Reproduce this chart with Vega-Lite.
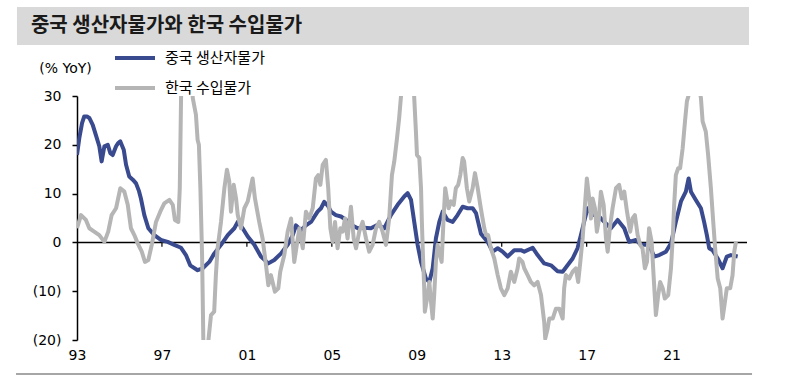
{
  "$schema": "https://vega.github.io/schema/vega-lite/v6.json",
  "padding": {"left": 16, "top": 7, "right": 0, "bottom": 0},
  "background": "white",
  "spacing": -9,
  "resolve": {"scale": {"color": "independent", "x": "independent", "y": "independent"}, "legend": {"color": "independent"}},
  "config": {"view": {"stroke": null}, "font": "DejaVu Sans"},
  "datasets": {
    "ppi": [
      {"t":1993.00,"v":17.9},{"t":1993.11,"v":21.4},{"t":1993.24,"v":24.5},{"t":1993.34,"v":25.8},{"t":1993.47,"v":25.8},{"t":1993.58,"v":25.5},{"t":1993.74,"v":24.1},{"t":1993.89,"v":22.0},{"t":1994.05,"v":19.7},{"t":1994.16,"v":16.6},{"t":1994.29,"v":19.7},{"t":1994.45,"v":20.0},{"t":1994.57,"v":18.3},{"t":1994.68,"v":17.9},{"t":1994.84,"v":19.7},{"t":1994.93,"v":20.3},{"t":1995.04,"v":20.7},{"t":1995.20,"v":19.0},{"t":1995.31,"v":15.9},{"t":1995.46,"v":13.5},{"t":1995.64,"v":12.8},{"t":1995.78,"v":12.1},{"t":1995.92,"v":10.5},{"t":1996.01,"v":9.0},{"t":1996.17,"v":5.6},{"t":1996.36,"v":2.9},{"t":1996.64,"v":1.5},{"t":1996.95,"v":0.5},{"t":1997.27,"v":0.1},{"t":1997.58,"v":-0.5},{"t":1997.90,"v":-1.1},{"t":1998.13,"v":-2.6},{"t":1998.33,"v":-4.7},{"t":1998.68,"v":-5.7},{"t":1998.92,"v":-5.3},{"t":1999.23,"v":-4.0},{"t":1999.46,"v":-2.3},{"t":1999.78,"v":-0.5},{"t":2000.10,"v":1.5},{"t":2000.41,"v":2.9},{"t":2000.57,"v":4.2},{"t":2000.80,"v":2.9},{"t":2001.04,"v":1.2},{"t":2001.35,"v":-0.5},{"t":2001.66,"v":-2.9},{"t":2002.01,"v":-4.3},{"t":2002.29,"v":-3.6},{"t":2002.60,"v":-2.3},{"t":2002.92,"v":-0.5},{"t":2003.16,"v":1.5},{"t":2003.31,"v":3.5},{"t":2003.55,"v":2.5},{"t":2003.78,"v":3.5},{"t":2004.02,"v":4.2},{"t":2004.33,"v":6.3},{"t":2004.49,"v":7.0},{"t":2004.64,"v":8.3},{"t":2004.82,"v":7.5},{"t":2004.96,"v":6.3},{"t":2005.19,"v":5.6},{"t":2005.43,"v":5.3},{"t":2005.67,"v":4.6},{"t":2005.90,"v":3.6},{"t":2006.22,"v":2.9},{"t":2006.51,"v":3.0},{"t":2006.84,"v":2.9},{"t":2007.16,"v":3.6},{"t":2007.47,"v":2.9},{"t":2007.78,"v":5.6},{"t":2008.10,"v":7.7},{"t":2008.41,"v":9.4},{"t":2008.57,"v":10.1},{"t":2008.73,"v":8.7},{"t":2008.88,"v":4.2},{"t":2009.04,"v":-0.5},{"t":2009.20,"v":-4.0},{"t":2009.43,"v":-7.4},{"t":2009.59,"v":-8.1},{"t":2009.75,"v":-5.3},{"t":2009.90,"v":0.8},{"t":2010.06,"v":4.2},{"t":2010.22,"v":6.3},{"t":2010.45,"v":4.6},{"t":2010.69,"v":4.2},{"t":2010.92,"v":5.6},{"t":2011.16,"v":7.3},{"t":2011.39,"v":7.0},{"t":2011.63,"v":7.0},{"t":2011.79,"v":6.0},{"t":2012.02,"v":1.8},{"t":2012.34,"v":0.1},{"t":2012.57,"v":-1.9},{"t":2012.81,"v":-1.2},{"t":2013.04,"v":-1.9},{"t":2013.28,"v":-2.9},{"t":2013.59,"v":-1.6},{"t":2013.90,"v":-1.6},{"t":2014.06,"v":-1.9},{"t":2014.46,"v":-1.1},{"t":2014.69,"v":-2.6},{"t":2015.00,"v":-4.3},{"t":2015.32,"v":-4.7},{"t":2015.63,"v":-5.9},{"t":2015.87,"v":-6.0},{"t":2016.10,"v":-4.7},{"t":2016.34,"v":-3.3},{"t":2016.57,"v":-1.2},{"t":2016.73,"v":1.5},{"t":2016.88,"v":4.2},{"t":2017.04,"v":7.0},{"t":2017.28,"v":5.6},{"t":2017.52,"v":5.6},{"t":2017.83,"v":4.2},{"t":2018.14,"v":2.9},{"t":2018.46,"v":4.6},{"t":2018.77,"v":2.9},{"t":2019.00,"v":0.1},{"t":2019.32,"v":0.5},{"t":2019.55,"v":-0.5},{"t":2019.94,"v":-0.5},{"t":2020.18,"v":-2.9},{"t":2020.42,"v":-2.6},{"t":2020.73,"v":-1.9},{"t":2020.97,"v":-0.2},{"t":2021.20,"v":4.2},{"t":2021.44,"v":8.4},{"t":2021.67,"v":10.4},{"t":2021.80,"v":13.1},{"t":2021.91,"v":10.4},{"t":2022.14,"v":8.7},{"t":2022.38,"v":7.0},{"t":2022.53,"v":4.2},{"t":2022.66,"v":1.5},{"t":2022.77,"v":-1.2},{"t":2022.93,"v":-1.6},{"t":2023.17,"v":-3.3},{"t":2023.40,"v":-5.3},{"t":2023.60,"v":-2.9},{"t":2023.79,"v":-2.6},{"t":2024.11,"v":-2.9}
    ],
    "imp": [
      {"t":1993.00,"v":2.9},{"t":1993.19,"v":5.6},{"t":1993.42,"v":4.6},{"t":1993.58,"v":2.9},{"t":1993.81,"v":2.2},{"t":1994.05,"v":1.5},{"t":1994.29,"v":0.1},{"t":1994.47,"v":2.2},{"t":1994.63,"v":5.6},{"t":1994.84,"v":7.0},{"t":1995.04,"v":11.1},{"t":1995.23,"v":10.4},{"t":1995.39,"v":7.7},{"t":1995.54,"v":2.9},{"t":1995.70,"v":1.5},{"t":1995.86,"v":-0.2},{"t":1996.05,"v":-1.9},{"t":1996.20,"v":-4.0},{"t":1996.36,"v":-3.6},{"t":1996.52,"v":-0.5},{"t":1996.72,"v":4.2},{"t":1996.92,"v":6.3},{"t":1997.11,"v":8.0},{"t":1997.35,"v":8.7},{"t":1997.51,"v":7.7},{"t":1997.61,"v":4.6},{"t":1997.77,"v":4.2},{"t":1997.84,"v":11.1},{"t":1997.90,"v":29.6},{"t":1997.99,"v":45},{"t":1998.18,"v":58},{"t":1998.37,"v":40},{"t":1998.45,"v":29.6},{"t":1998.60,"v":26.2},{"t":1998.68,"v":21},{"t":1998.74,"v":20},{"t":1998.81,"v":11.1},{"t":1998.89,"v":-2.6},{"t":1998.95,"v":-20.3},{"t":1999.03,"v":-25},{"t":1999.18,"v":-20.4},{"t":1999.31,"v":-14.9},{"t":1999.46,"v":-14.2},{"t":1999.54,"v":-6.7},{"t":1999.62,"v":-1.2},{"t":1999.78,"v":4.2},{"t":1999.94,"v":11.1},{"t":2000.06,"v":14.9},{"t":2000.17,"v":12.5},{"t":2000.25,"v":6.3},{"t":2000.38,"v":11.8},{"t":2000.49,"v":9.0},{"t":2000.57,"v":5.6},{"t":2000.72,"v":2.9},{"t":2000.88,"v":7.0},{"t":2001.04,"v":8.4},{"t":2001.27,"v":13.1},{"t":2001.38,"v":9.0},{"t":2001.58,"v":4.2},{"t":2001.74,"v":0.8},{"t":2001.90,"v":-4.7},{"t":2002.01,"v":-8.8},{"t":2002.13,"v":-6.7},{"t":2002.32,"v":-10.1},{"t":2002.48,"v":-9.4},{"t":2002.57,"v":-6.0},{"t":2002.76,"v":-2.6},{"t":2002.92,"v":2.2},{"t":2003.08,"v":4.9},{"t":2003.23,"v":-4.0},{"t":2003.47,"v":2.9},{"t":2003.63,"v":-1.2},{"t":2003.78,"v":6.3},{"t":2003.94,"v":4.9},{"t":2004.10,"v":7.0},{"t":2004.25,"v":13.1},{"t":2004.36,"v":13.8},{"t":2004.46,"v":11.8},{"t":2004.57,"v":15.9},{"t":2004.72,"v":16.9},{"t":2004.83,"v":11.1},{"t":2004.93,"v":2.9},{"t":2005.04,"v":0.1},{"t":2005.15,"v":4.2},{"t":2005.27,"v":-1.2},{"t":2005.40,"v":2.9},{"t":2005.51,"v":2.2},{"t":2005.62,"v":4.9},{"t":2005.74,"v":0.8},{"t":2005.90,"v":7.3},{"t":2006.03,"v":0.8},{"t":2006.14,"v":-1.2},{"t":2006.29,"v":2.2},{"t":2006.45,"v":4.2},{"t":2006.61,"v":0.8},{"t":2006.76,"v":-1.9},{"t":2006.92,"v":-0.5},{"t":2007.08,"v":2.9},{"t":2007.23,"v":4.2},{"t":2007.39,"v":2.2},{"t":2007.55,"v":-0.5},{"t":2007.70,"v":4.9},{"t":2007.83,"v":13.8},{"t":2007.94,"v":16.6},{"t":2008.07,"v":21.4},{"t":2008.17,"v":25.5},{"t":2008.25,"v":29.6},{"t":2008.44,"v":40},{"t":2008.63,"v":48},{"t":2008.77,"v":40},{"t":2008.88,"v":29.6},{"t":2008.96,"v":22.7},{"t":2009.01,"v":17.9},{"t":2009.12,"v":17.3},{"t":2009.20,"v":11.1},{"t":2009.24,"v":4.2},{"t":2009.29,"v":-2.6},{"t":2009.35,"v":-9.4},{"t":2009.38,"v":-14.2},{"t":2009.51,"v":-10.8},{"t":2009.59,"v":-8.1},{"t":2009.67,"v":-12.2},{"t":2009.75,"v":-15.6},{"t":2009.82,"v":-10.8},{"t":2009.90,"v":-4.0},{"t":2009.98,"v":-0.5},{"t":2010.06,"v":-1.9},{"t":2010.17,"v":-4.0},{"t":2010.27,"v":5.6},{"t":2010.34,"v":11.1},{"t":2010.42,"v":9.0},{"t":2010.50,"v":7.0},{"t":2010.61,"v":8.4},{"t":2010.74,"v":7.7},{"t":2010.84,"v":11.1},{"t":2010.95,"v":11.8},{"t":2011.05,"v":13.8},{"t":2011.16,"v":17.3},{"t":2011.23,"v":16.6},{"t":2011.36,"v":11.1},{"t":2011.47,"v":8.4},{"t":2011.63,"v":11.1},{"t":2011.74,"v":14.2},{"t":2011.87,"v":11.1},{"t":2011.99,"v":7.7},{"t":2012.07,"v":5.6},{"t":2012.18,"v":2.9},{"t":2012.26,"v":1.5},{"t":2012.36,"v":1.5},{"t":2012.49,"v":-1.2},{"t":2012.65,"v":-3.3},{"t":2012.81,"v":-6.7},{"t":2012.96,"v":-9.4},{"t":2013.12,"v":-10.8},{"t":2013.28,"v":-9.4},{"t":2013.43,"v":-6.0},{"t":2013.59,"v":-8.1},{"t":2013.75,"v":-5.3},{"t":2013.82,"v":-3.3},{"t":2013.98,"v":-4.0},{"t":2014.06,"v":-5.3},{"t":2014.22,"v":-6.7},{"t":2014.37,"v":-8.1},{"t":2014.53,"v":-8.8},{"t":2014.69,"v":-8.1},{"t":2014.85,"v":-10.8},{"t":2015.00,"v":-16.3},{"t":2015.05,"v":-19.7},{"t":2015.16,"v":-17.7},{"t":2015.24,"v":-15.6},{"t":2015.40,"v":-15.6},{"t":2015.55,"v":-13.6},{"t":2015.71,"v":-13.6},{"t":2015.87,"v":-15.6},{"t":2015.94,"v":-9.4},{"t":2016.02,"v":-6.7},{"t":2016.18,"v":-7.4},{"t":2016.34,"v":-6.0},{"t":2016.49,"v":-5.3},{"t":2016.60,"v":-8.1},{"t":2016.70,"v":-4.0},{"t":2016.81,"v":0.8},{"t":2016.92,"v":7.7},{"t":2017.01,"v":13.1},{"t":2017.12,"v":9.0},{"t":2017.20,"v":4.9},{"t":2017.28,"v":9.0},{"t":2017.39,"v":7.0},{"t":2017.48,"v":2.2},{"t":2017.56,"v":4.2},{"t":2017.67,"v":10.4},{"t":2017.80,"v":7.7},{"t":2017.91,"v":0.8},{"t":2017.99,"v":-1.9},{"t":2018.09,"v":2.9},{"t":2018.22,"v":7.0},{"t":2018.38,"v":11.1},{"t":2018.53,"v":11.8},{"t":2018.65,"v":9.0},{"t":2018.77,"v":10.4},{"t":2018.90,"v":6.3},{"t":2019.00,"v":3.6},{"t":2019.05,"v":2.2},{"t":2019.16,"v":4.9},{"t":2019.27,"v":5.6},{"t":2019.40,"v":1.5},{"t":2019.52,"v":-0.5},{"t":2019.63,"v":-1.2},{"t":2019.74,"v":-5.3},{"t":2019.84,"v":-4.0},{"t":2019.94,"v":2.9},{"t":2020.06,"v":0.1},{"t":2020.15,"v":-6.7},{"t":2020.26,"v":-14.9},{"t":2020.37,"v":-10.8},{"t":2020.46,"v":-8.1},{"t":2020.58,"v":-9.4},{"t":2020.68,"v":-11.5},{"t":2020.84,"v":-10.8},{"t":2020.97,"v":-5.3},{"t":2021.05,"v":0.8},{"t":2021.12,"v":7.7},{"t":2021.20,"v":13.8},{"t":2021.31,"v":15.2},{"t":2021.40,"v":15.2},{"t":2021.52,"v":19.3},{"t":2021.63,"v":24.8},{"t":2021.72,"v":28.9},{"t":2021.81,"v":30.3},{"t":2021.95,"v":31},{"t":2022.14,"v":36},{"t":2022.38,"v":29.6},{"t":2022.46,"v":24.8},{"t":2022.61,"v":22.7},{"t":2022.72,"v":17.9},{"t":2022.85,"v":11.1},{"t":2022.96,"v":4.2},{"t":2023.05,"v":-1.2},{"t":2023.17,"v":-7.4},{"t":2023.29,"v":-9.4},{"t":2023.40,"v":-15.6},{"t":2023.51,"v":-12.2},{"t":2023.60,"v":-9.4},{"t":2023.76,"v":-9.4},{"t":2023.87,"v":-6.7},{"t":2023.95,"v":-1.9},{"t":2024.03,"v":0.1}
    ],
    "ticks": [{"t":1997},{"t":2001},{"t":2005},{"t":2009},{"t":2013},{"t":2017},{"t":2021}],
    "band": [{"a": -0.0896, "b": 1.003, "title": "중국 생산자물가와 한국 수입물가", "tx": -0.0687}],
    "foot": [{"a": -0.091, "b": 1.0075}]
  },
  "vconcat": [
    {
      "width": 670,
      "height": 38,
      "data": {"name": "band"},
      "layer": [
        {
          "mark": {"type": "rect", "color": "#d9d9d9", "clip": false},
          "encoding": {
            "x": {"field": "a", "type": "quantitative", "scale": {"domain": [0, 1], "nice": false, "zero": false}, "axis": null},
            "x2": {"field": "b"},
            "y": {"datum": 0, "type": "quantitative", "scale": {"domain": [0, 1], "nice": false, "zero": false}, "axis": null},
            "y2": {"datum": 1}
          }
        },
        {
          "mark": {"type": "text", "align": "left", "baseline": "middle", "font": "Noto Sans CJK KR", "fontSize": 20, "fontWeight": "bold", "color": "#1a1a1a"},
          "encoding": {
            "text": {"field": "title"},
            "x": {"field": "tx", "type": "quantitative"},
            "y": {"datum": 0.5, "type": "quantitative"}
          }
        }
      ]
    },
    {
      "spacing": 11,
      "resolve": {"scale": {"color": "independent", "x": "independent", "y": "independent"}, "legend": {"color": "independent"}},
      "vconcat": [
        {
          "width": 670,
          "height": 244,
          "layer": [
            {
              "data": {"name": "ticks"},
              "mark": {"type": "rule", "color": "#000", "strokeWidth": 1.2},
              "encoding": {
                "x": {"field": "t", "type": "quantitative", "scale": {"domain": [1993, 2024.55], "nice": false, "zero": false},
                  "axis": {"title": null, "values": [1993, 1997, 2001, 2005, 2009, 2013, 2017, 2021], "labelExpr": "substring(toString(datum.value), 2)", "ticks": false, "domain": false, "grid": false, "labelPadding": 8, "labelFontSize": 14, "labelColor": "#000", "labelFlush": false}},
                "y": {"datum": 0, "type": "quantitative", "scale": {"domain": [-20, 30], "nice": false, "zero": false},
                  "axis": {"title": "(% YoY)", "titleAngle": 0, "titleX": -12, "titleY": -28, "titleAlign": "center", "titleBaseline": "middle", "titleFontSize": 14, "titleFontWeight": "normal", "titleColor": "#000", "values": [-20, -10, 0, 10, 20, 30], "labelExpr": "datum.value < 0 ? '(' + abs(datum.value) + ')' : '' + datum.value", "grid": false, "domainColor": "#000", "domainWidth": 1.5, "tickColor": "#000", "tickSize": 5, "tickWidth": 1.5, "labelPadding": 11, "labelFontSize": 14, "labelColor": "#000", "minExtent": 60}},
                "y2": {"datum": -0.9}
              }
            },
            {
              "data": {"values": [{}]},
              "mark": {"type": "rule", "color": "#000", "strokeWidth": 1.5},
              "encoding": {
                "y": {"datum": 0, "type": "quantitative"}
              }
            },
            {
              "data": {"name": "ppi"},
              "mark": {"type": "line", "strokeWidth": 4, "clip": true, "strokeJoin": "round"},
              "encoding": {
                "x": {"field": "t", "type": "quantitative"},
                "y": {"field": "v", "type": "quantitative"},
                "color": {"datum": "중국 생산자물가", "type": "nominal",
                  "scale": {"domain": ["중국 생산자물가", "한국 수입물가"], "range": ["#3a4a8e", "#b5b5b5"]},
                  "legend": {"orient": "none", "legendX": 36, "legendY": -60, "direction": "vertical", "title": null, "symbolType": "stroke", "symbolSize": 1600, "symbolStrokeWidth": 4, "labelFont": "Noto Sans CJK KR", "labelFontSize": 15, "labelColor": "#000", "labelOffset": 8, "rowPadding": 0, "padding": 0}}
              }
            },
            {
              "data": {"name": "imp"},
              "mark": {"type": "line", "strokeWidth": 4, "clip": true, "strokeJoin": "round"},
              "encoding": {
                "x": {"field": "t", "type": "quantitative"},
                "y": {"field": "v", "type": "quantitative"},
                "color": {"datum": "한국 수입물가", "type": "nominal"}
              }
            }
          ]
        },
        {
          "width": 670,
          "height": 2,
          "data": {"name": "foot"},
          "mark": {"type": "rect", "color": "#a6a6a6", "clip": false},
          "encoding": {
            "x": {"field": "a", "type": "quantitative", "scale": {"domain": [0, 1], "nice": false, "zero": false}, "axis": null},
            "x2": {"field": "b"}
          }
        }
      ]
    }
  ]
}
